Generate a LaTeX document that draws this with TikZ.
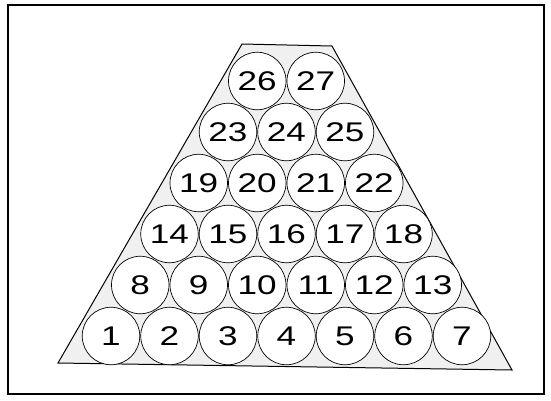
\documentclass[tikz,border=0pt]{standalone}
\usepackage{fontspec}
\newfontfamily\numfont[FakeStretch=1.3]{Liberation Sans}
\begin{document}
\begin{tikzpicture}[x=1pt,y=-1pt,
  ball/.style={circle,draw=black,line width=0.7pt,fill=white,minimum size=57.5pt,inner sep=0pt,
    font=\numfont\fontsize{27}{27}\selectfont},
  frame/.style={draw=black,line width=1.3pt},
  tray/.style={draw=black,line width=1pt,fill=black!6}]
\useasboundingbox (0,0) rectangle (551,400);
\draw[frame] (8,5) rectangle (544,394);
\coordinate (bl) at (58,363);
\coordinate (tl) at (242,44);
\coordinate (tr) at (332,46);
\coordinate (br) at (512,370);
\draw[tray] (bl) -- (tl) -- (tr) -- (br) -- cycle;
\foreach \k/\n/\s in {0/7/1,1/6/8,2/5/14,3/4/19,4/3/23,5/2/26} {
  \foreach \i in {1,...,\n} {
    \pgfmathtruncatemacro\num{\s+\i-1}
    \node[ball] (c\num) at ({111+29.25*\k+58.5*(\i-1)}, {336-51*\k}) {\num};
  }
}
\end{tikzpicture}
\end{document}
